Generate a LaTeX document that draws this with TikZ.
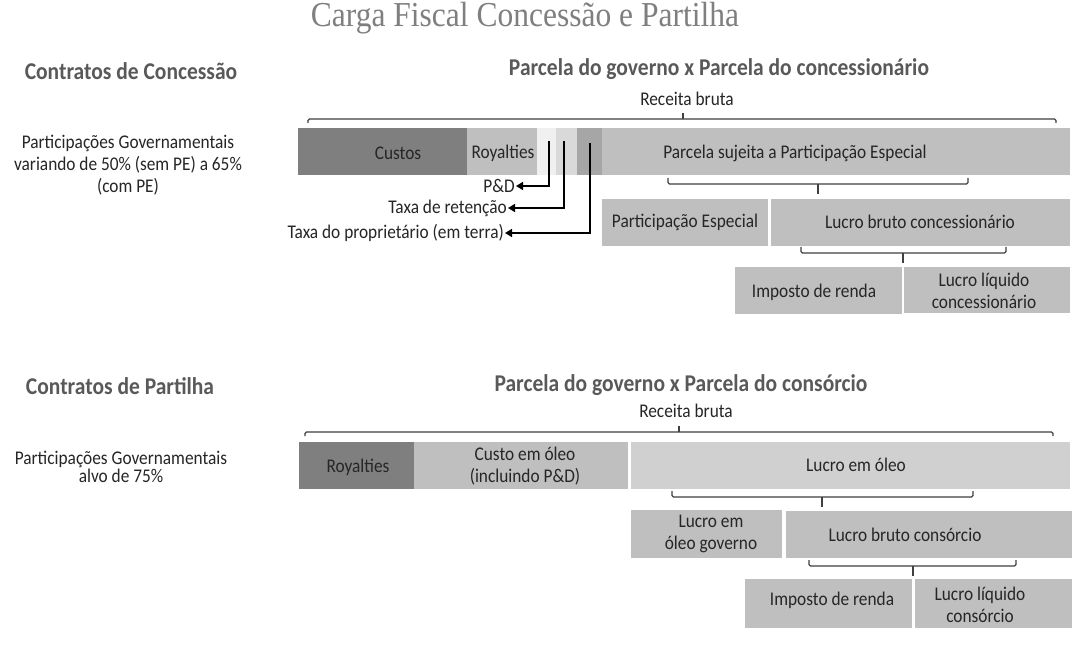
\documentclass[tikz,border=0pt]{standalone}
\usepackage{fontspec}
\setmainfont{Carlito}
\newfontfamily\titlefont{Liberation Serif}
\usetikzlibrary{fit,arrows.meta}
\definecolor{dk}{HTML}{7F7F7F}
\definecolor{md}{HTML}{BFBFBF}
\definecolor{lt}{HTML}{D0D0D0}
\definecolor{pd}{HTML}{F0F0F0}
\definecolor{tr}{HTML}{D9D9D9}
\definecolor{tp}{HTML}{A6A6A6}
\definecolor{hd}{HTML}{595959}
\definecolor{tx}{HTML}{262626}
\tikzset{
  boxr/.style={inner sep=0pt, draw=none},
  lbl/.style={font=\fontsize{17.3}{19.5}\selectfont, text=tx, inner sep=0pt, align=center, yscale=1.12},
  head/.style={font=\fontsize{21.5}{24}\selectfont\bfseries, text=hd, inner sep=0pt, yscale=1.12},
  brace/.style={draw=black!75, line width=1.1pt, rounded corners=1.5pt},
  pointer/.style={draw=black, line width=1.6pt, -{Triangle[length=7pt,width=8pt]}},
}
\newcommand{\bx}[6]{\node[boxr, fill=#6, fit={(#2,#3) (#4,#5)}] (#1) {};}
\newcommand{\brU}[4]{% x1 x2 y mid : ticks down at ends, tip up
  \draw[brace] (#1,#3+4) -- (#1,#3) -- (#2,#3) -- (#2,#3+4);
  \draw[brace] (#4,#3) -- (#4,#3-6);}
\newcommand{\brD}[4]{% ticks up, tip down
  \draw[brace] (#1,#3-6) -- (#1,#3) -- (#2,#3) -- (#2,#3-6);
  \draw[brace] (#4,#3) -- (#4,#3+10);}
\begin{document}
\begin{tikzpicture}[x=1pt,y=-1pt]
\useasboundingbox (0,0) rectangle (1088,655);
\fill[white] (0,0) rectangle (1088,655);

\node[font=\titlefont\fontsize{35}{40}\selectfont, text=dk, xscale=0.9, inner sep=0pt, anchor=base] (title) at (525,27) {Carga Fiscal Concessão e Partilha};

% ---------- Concessao ----------
\node[head] (h1) at (131,71) {Contratos de Concessão};
\node[head] (h2) at (719,69) {Parcela do governo x Parcela do concessionário};
\node[lbl] (r1) at (687,99) {Receita bruta};
\brU{308}{1056}{119}{683}
\node[lbl, align=center] (pg1) at (128,165) {Participações Governamentais\\variando de 50\% (sem PE) a 65\%\\(com PE)};

\bx{custos}{298}{128}{467}{175}{dk}
\bx{roy1}{467}{128}{537}{175}{md}
\bx{pdb}{537}{128}{556}{175}{pd}
\bx{ret}{556}{128}{577}{175}{tr}
\bx{prop}{577}{128}{602}{175}{tp}
\bx{parcela}{602}{128}{1070}{175}{md}
\node[lbl] (tcustos) at (398,153) {Custos};
\node[lbl] (troy1) at (503,153) {Royalties};
\node[lbl] (tparcela) at (795,153) {Parcela sujeita a Participação Especial};

\coordinate (c1) at (549,141);
\coordinate (c2) at (564,141);
\coordinate (c3) at (590,143);
\node[lbl, anchor=east] (lpd) at (515,186) {P\&D};
\node[lbl, anchor=east] (lret) at (507,208) {Taxa de retenção};
\node[lbl, anchor=east] (lprop) at (504,233) {Taxa do proprietário (em terra)};
\draw[pointer] (c1) |- ([xshift=1pt]lpd.east);
\draw[pointer] (c2) |- ([xshift=1pt]lret.east);
\draw[pointer] (c3) |- ([xshift=1pt]lprop.east);

\brD{668}{968}{184}{818}
\bx{pe}{602}{199}{768}{246}{md}
\bx{lbc}{771}{199}{1070}{246}{md}
\node[lbl] (tpe) at (685,222) {Participação Especial};
\node[lbl] (tlbc) at (920,222) {Lucro bruto concessionário};

\brD{801}{1006}{253}{903}
\bx{ir1}{735}{267}{902}{314}{md}
\bx{llc}{904}{267}{1070}{313}{md}
\node[lbl] (tir1) at (814,292) {Imposto de renda};
\node[lbl] (tllc) at (984,291) {Lucro líquido\\concessionário};

% ---------- Partilha ----------
\node[head] (h3) at (120,386) {Contratos de Partilha};
\node[head] (h4) at (681,385) {Parcela do governo x Parcela do consórcio};
\node[lbl] (r2) at (686,411) {Receita bruta};
\brU{305}{1053}{432}{679}
\node[lbl, font=\fontsize{17.3}{15.5}\selectfont] (pg2) at (121,467) {Participações Governamentais\\alvo de 75\%};

\bx{roy2}{299}{442}{414}{489}{dk}
\bx{custo}{414}{442}{628}{489}{md}
\bx{lucro}{631}{442}{1070}{489}{lt}
\node[lbl] (troy2) at (358,467) {Royalties};
\node[lbl] (tcusto) at (525,466) {Custo em óleo\\(incluindo P\&D)};
\node[lbl] (tlucro) at (856,465) {Lucro em óleo};

\brD{672}{973}{497}{822}
\bx{log}{631}{510}{782}{558}{md}
\bx{lbcs}{786}{511}{1072}{558}{md}
\node[lbl] (tlog) at (711,534) {Lucro em\\óleo governo};
\node[lbl] (tlbcs) at (905,535) {Lucro bruto consórcio};

\brD{809}{1016}{566}{913}
\bx{ir2}{745}{579}{912}{628}{md}
\bx{llcs}{915}{579}{1072}{628}{md}
\node[lbl] (tir2) at (832,600) {Imposto de renda};
\node[lbl] (tllcs) at (980,605) {Lucro líquido\\consórcio};
\end{tikzpicture}
\end{document}
